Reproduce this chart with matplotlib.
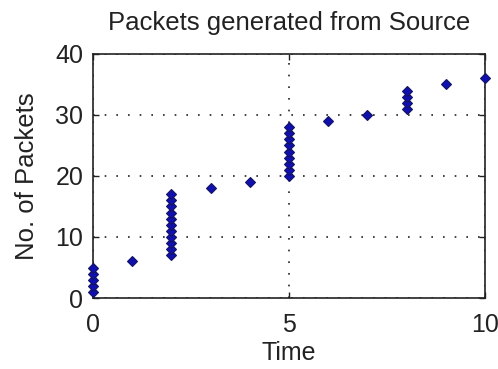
import matplotlib
matplotlib.use("Agg")
import matplotlib.pyplot as plt

plt.rcParams['font.family'] = ['Liberation Sans', 'DejaVu Sans']

# packets generated at each time step (cumulative packet index)
times = [0, 0, 0, 0, 0, 1, 2, 2, 2, 2, 2, 2, 2, 2, 2, 2, 2, 3, 4,
         5, 5, 5, 5, 5, 5, 5, 5, 5, 6, 7, 8, 8, 8, 8, 9, 10]
packets = list(range(1, 37))
xticks = [0, 5, 10]
yticks = [0, 10, 20, 30, 40]

fs = 18
fig = plt.figure(figsize=(4.98, 3.69), dpi=100)
ax = fig.add_axes([93/498, 1-298/369, (485-93)/498, (298-54)/369])
ax.plot(times, packets, linestyle='none', marker='D', markersize=5,
        markerfacecolor='#1010b0', markeredgecolor='#141460', markeredgewidth=0.8,
        clip_on=False, zorder=3)
ax.set_xlim(0, 10)
ax.set_ylim(0, 40)
ax.set_xticks(xticks)
ax.set_yticks(yticks)
ax.grid(True, linestyle=(0, (1, 6)), color='#222222', linewidth=1.2)
ax.tick_params(direction='in', top=True, right=True, labelsize=fs, length=4,
               width=1, colors='#222222')
ax.tick_params(axis='x', pad=11)
ax.tick_params(axis='y', pad=7)
for s in ax.spines.values():
    s.set_linewidth(1.2)
    s.set_color('#222222')
ax.set_title('Packets generated from Source', fontsize=fs + 0.5, pad=17, color='#222222')
ax.set_xlabel('Time', fontsize=fs, labelpad=3, color='#222222')
ax.set_ylabel('No. of Packets', fontsize=fs + 0.5, labelpad=12, color='#222222')
fig.savefig('out.png', dpi=100)
